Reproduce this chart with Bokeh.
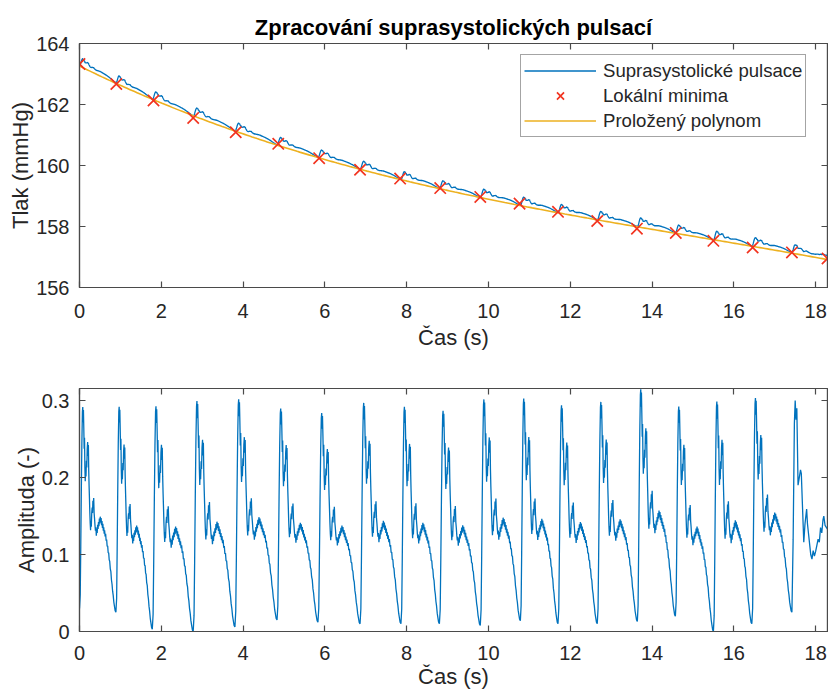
import numpy as np
from bokeh.plotting import figure
from bokeh.layouts import column
from bokeh.models import (Range1d, FixedTicker, LinearAxis, Legend, LegendItem,
                          CustomJSTickFormatter)
from bokeh.embed import file_html
from bokeh.resources import INLINE

# ---------------------------------------------------------------- data
# local minima of the cuff pressure trace (s, mmHg)
min_time = [0.00, 0.90, 1.81, 2.78, 3.82, 4.86, 5.86, 6.86, 7.84, 8.82,
            9.80, 10.76, 11.70, 12.66, 13.63, 14.58, 15.50, 16.46, 17.42, 18.29]
min_pressure = [163.33, 162.67, 162.13, 161.56, 161.09, 160.71, 160.24, 159.86,
                159.57, 159.26, 158.97, 158.75, 158.48, 158.18, 157.93, 157.79,
                157.53, 157.31, 157.15, 156.95]

# oscillation feet (s), amplitude at each foot and at each systolic peak
beat_onset = [0.00, 0.89, 1.78, 2.78, 3.80, 4.83, 5.83, 6.86, 7.86, 8.80,
              9.80, 10.78, 11.70, 12.66, 13.64, 14.57, 15.50, 16.44, 17.42]
beat_floor = [0.030, 0.025, 0.003, 0.000, 0.006, 0.015, 0.012, 0.010, 0.010, 0.010,
              0.008, 0.014, 0.010, 0.010, 0.013, 0.020, 0.000, 0.010, 0.025]
beat_peak = [0.292, 0.294, 0.293, 0.299, 0.301, 0.290, 0.284, 0.297, 0.292, 0.287,
             0.301, 0.303, 0.294, 0.298, 0.314, 0.294, 0.298, 0.302, 0.300]

# shape of one oscillation: phase within the beat -> amplitude above the foot
shape_phase = [0.000, 0.020, 0.035, 0.050, 0.065, 0.080, 0.090, 0.100, 0.108, 0.118,
               0.128, 0.138, 0.148, 0.158, 0.168, 0.178, 0.190, 0.200, 0.212, 0.224,
               0.234, 0.244, 0.254, 0.264, 0.274, 0.284, 0.294, 0.304, 0.314, 0.324,
               0.336, 0.348, 0.358, 0.368, 0.378, 0.390, 0.402, 0.414, 0.426, 0.438,
               0.450, 0.462, 0.474, 0.486, 0.498, 0.510, 0.522, 0.534, 0.546, 0.558,
               0.570, 0.582, 0.594, 0.606, 0.618, 0.630, 0.642, 0.654, 0.666, 0.678,
               0.690, 0.704, 0.718, 0.732, 0.746, 0.760, 0.774, 0.788, 0.802, 0.816,
               0.830, 0.846, 0.862, 0.878, 0.894, 0.910, 0.926, 0.944, 0.962, 0.980,
               1.000]
shape_value = [0.000, 0.020, 0.090, 0.170, 0.240, 0.285, 0.292, 0.270, 0.288, 0.262,
               0.232, 0.248, 0.205, 0.185, 0.205, 0.192, 0.215, 0.205, 0.232, 0.242,
               0.222, 0.238, 0.200, 0.178, 0.160, 0.140, 0.125, 0.115, 0.128, 0.120,
               0.140, 0.148, 0.140, 0.158, 0.150, 0.162, 0.140, 0.132, 0.122, 0.115,
               0.120, 0.108, 0.118, 0.112, 0.124, 0.118, 0.128, 0.122, 0.133, 0.126,
               0.136, 0.128, 0.134, 0.124, 0.130, 0.120, 0.126, 0.116, 0.121, 0.112,
               0.117, 0.108, 0.112, 0.102, 0.104, 0.094, 0.095, 0.085, 0.085, 0.075,
               0.073, 0.062, 0.058, 0.046, 0.040, 0.030, 0.024, 0.014, 0.008, 0.002,
               0.000]

# last, truncated oscillation (s, amplitude)
tail_time = [17.42, 17.45, 17.48, 17.50, 17.52, 17.54, 17.57, 17.60, 17.63, 17.65,
             17.68, 17.71, 17.74, 17.78, 17.80, 17.83, 17.86, 17.88, 17.91, 17.94,
             17.97, 18.00, 18.03, 18.06, 18.09, 18.12, 18.15, 18.18, 18.20, 18.23,
             18.29]
tail_value = [0.025, 0.120, 0.270, 0.300, 0.275, 0.290, 0.190, 0.200, 0.210, 0.205,
              0.160, 0.116, 0.140, 0.159, 0.140, 0.125, 0.110, 0.100, 0.094, 0.105,
              0.098, 0.104, 0.112, 0.120, 0.116, 0.135, 0.128, 0.145, 0.150, 0.138,
              0.133]

t_end = 18.29
time_ticks = [0, 2, 4, 6, 8, 10, 12, 14, 16, 18]
pressure_ticks = [156, 158, 160, 162, 164]
amp_ticks = [0, 0.1, 0.2, 0.3]
amp_tick_labels = ["0", "0.1", "0.2", "0.3"]

# ---------------------------------------------------------------- signals
amp_t, amp_v = [], []
ref_peak = max(shape_value)
for i in range(len(beat_onset) - 1):
    t0, t1 = beat_onset[i], beat_onset[i + 1]
    m0, m1 = beat_floor[i], beat_floor[i + 1]
    scale = (beat_peak[i] - m0) / ref_peak
    for ph, v in zip(shape_phase[:-1], shape_value[:-1]):
        amp_t.append(t0 + ph * (t1 - t0))
        amp_v.append(m0 + ph * (m1 - m0) + v * scale)
amp_t += tail_time
amp_v += tail_value
amp_t = np.array(amp_t)
amp_v = np.array(amp_v)

# polynomial fitted through the local minima
coef = np.polyfit(min_time, min_pressure, 3)
fit_t = np.linspace(0, t_end, 300)
fit_p = np.polyval(coef, fit_t)
pressure = np.polyval(coef, amp_t) + amp_v

# ---------------------------------------------------------------- styling
FONT = "Liberation Sans"
AX = "#4a4a4a"
TXT = "#262626"
BLUE = "#0072BD"
RED = "#F2331F"
YELLOW = "#EDB120"


def style_axis(ax, ticks, label=None, overrides=None):
    ax.ticker = FixedTicker(ticks=ticks)
    ax.axis_line_color = AX
    ax.axis_line_width = 1.2
    ax.major_tick_line_color = AX
    ax.major_tick_line_width = 1.2
    ax.major_tick_in = 6
    ax.major_tick_out = 0
    ax.minor_tick_in = 0
    ax.minor_tick_out = 0
    ax.major_label_text_font = FONT
    ax.major_label_text_font_size = "20px"
    ax.major_label_text_color = TXT
    if overrides:
        ax.major_label_overrides = overrides
    if label:
        ax.axis_label = label
        ax.axis_label_text_font = FONT
        ax.axis_label_text_font_size = "22px"
        ax.axis_label_text_font_style = "normal"
        ax.axis_label_text_color = TXT


def mirror_axis(ticks):
    ax = LinearAxis(ticker=FixedTicker(ticks=ticks),
                    formatter=CustomJSTickFormatter(code="return ''"))
    ax.axis_line_color = AX
    ax.axis_line_width = 1.2
    ax.major_tick_line_color = AX
    ax.major_tick_line_width = 1.2
    ax.major_tick_in = 6
    ax.major_tick_out = 0
    ax.minor_tick_in = 0
    ax.minor_tick_out = 0
    ax.major_label_text_font_size = "0px"
    ax.major_label_standoff = 0
    return ax


def make_fig(height, top, bottom, y_range, y_ticks, y_label, y_over=None,
             x_standoff=16, x_label_standoff=4):
    p = figure(width=828, height=height, x_range=Range1d(0, t_end), y_range=y_range,
               output_backend="svg", toolbar_location=None,
               min_border_left=79, min_border_right=1,
               min_border_top=top, min_border_bottom=bottom)
    p.xgrid.visible = False
    p.ygrid.visible = False
    p.outline_line_color = AX
    p.outline_line_width = 1.2
    p.background_fill_color = "white"
    p.border_fill_color = "white"
    style_axis(p.xaxis[0], time_ticks, "Čas (s)")
    p.xaxis[0].major_label_standoff = x_standoff
    p.xaxis[0].axis_label_standoff = x_label_standoff
    style_axis(p.yaxis[0], y_ticks, y_label, y_over)
    p.yaxis[0].major_label_standoff = 10
    p.yaxis[0].axis_label_standoff = 0
    p.add_layout(mirror_axis(time_ticks), "above")
    p.add_layout(mirror_axis(y_ticks), "right")
    return p


# ---------------------------------------------------------------- top panel
top = make_fig(360, 43, 73, Range1d(156, 164), pressure_ticks, "Tlak (mmHg)")
top.title.text = "Zpracování suprasystolických pulsací"
top.title.text_font = FONT
top.title.text_font_size = "22px"
top.title.text_font_style = "bold"
top.title.text_color = "#000000"
top.title.align = "center"
top.title.standoff = 7

r_sig = top.line(amp_t, pressure, line_color=BLUE, line_width=1.3)
r_fit = top.line(fit_t, fit_p, line_color=YELLOW, line_width=1.6)
r_min = top.scatter(min_time, min_pressure, marker="x", size=16,
                    line_color=RED, line_width=1.7)

legend = Legend(items=[LegendItem(label="Suprasystolické pulsace", renderers=[r_sig]),
                       LegendItem(label="Lokální minima", renderers=[r_min]),
                       LegendItem(label="Proložený polynom", renderers=[r_fit])],
                location=(441, 150))
legend.label_text_font = FONT
legend.label_text_font_size = "18.6px"
legend.label_text_color = TXT
legend.glyph_width = 72
legend.glyph_height = 25
legend.label_height = 25
legend.label_standoff = 7
legend.spacing = 0
legend.padding = 3
legend.margin = 0
legend.border_line_color = AX
legend.border_line_width = 1.2
legend.background_fill_color = "white"
legend.background_fill_alpha = 1.0
top.add_layout(legend)

# ---------------------------------------------------------------- bottom panel
bot = make_fig(332, 28, 61, Range1d(0, 0.3157), amp_ticks, "Amplituda (-)",
               dict(zip(amp_ticks, amp_tick_labels)),
               x_standoff=14, x_label_standoff=1)
bot.line(amp_t, amp_v, line_color=BLUE, line_width=1.3)

layout = column(top, bot, spacing=0)
open("out.html", "w").write(file_html(layout, INLINE))
